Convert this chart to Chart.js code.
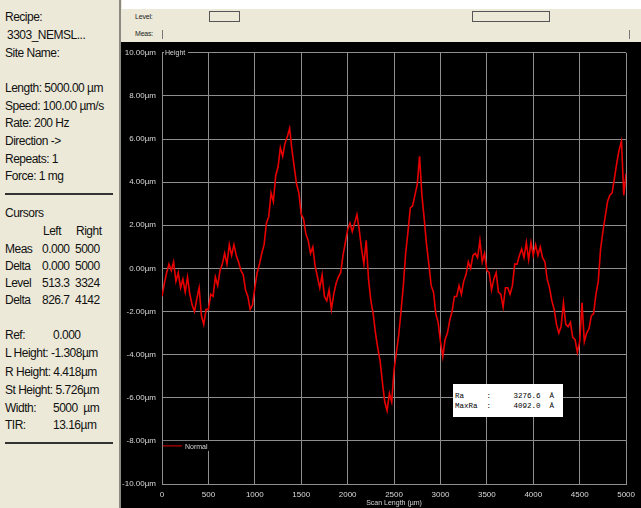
<!DOCTYPE html>
<html>
<head>
<meta charset="utf-8">
<script src="https://cdn.jsdelivr.net/npm/chart.js@4/dist/chart.umd.min.js"></script>
<style>
  html, body { margin:0; padding:0; }
  body { width:641px; height:508px; position:relative; overflow:hidden; background:#ECE9D8; font-family:"Liberation Sans", Arial, sans-serif; }
  #panel span { position:absolute; font-size:12px; letter-spacing:-0.5px; color:#111; white-space:pre; line-height:14px; transform:translateY(-7px); }
  .rule { position:absolute; left:5px; width:108px; height:2px; background:#333; }
  #topwhite { position:absolute; left:122px; top:0; width:519px; height:9px; background:#fff; }
  #divider { position:absolute; left:119px; top:0; width:2px; height:508px; background:#8a8a80; }
  .small { position:absolute; font-size:7px; color:#222; letter-spacing:-0.2px; }
  .box { position:absolute; border:1px solid #555; background:#ECE9D8; height:9px; }
  #wrap { position:absolute; left:121px; top:42px; width:520px; height:466px; background:#000; }
  #ra { position:absolute; left:453px; top:384px; width:110px; height:33px; background:#fff; font-family:"Liberation Mono", monospace; font-size:7.5px; color:#000; }
  #ra div { position:absolute; left:2px; white-space:pre; }
</style>
</head>
<body>
<div id="panel">
  <span style="left:5px;top:17px">Recipe:</span>
  <span style="left:7px;top:35px">3303_NEMSL...</span>
  <span style="left:5px;top:53px">Site Name:</span>
  <span style="left:5px;top:88px">Length: 5000.00 µm</span>
  <span style="left:5px;top:106px">Speed: 100.00 µm/s</span>
  <span style="left:5px;top:123px">Rate: 200 Hz</span>
  <span style="left:5px;top:141px">Direction -&gt;</span>
  <span style="left:5px;top:159px">Repeats: 1</span>
  <span style="left:5px;top:176px">Force: 1 mg</span>
  <div class="rule" style="top:193px"></div>
  <span style="left:5px;top:213px">Cursors</span>
  <span style="left:43px;top:231px">Left</span><span style="left:76px;top:231px">Right</span>
  <span style="left:5px;top:249px">Meas</span><span style="left:42px;top:249px">0.000</span><span style="left:75px;top:249px">5000</span>
  <span style="left:5px;top:266px">Delta</span><span style="left:42px;top:266px">0.000</span><span style="left:75px;top:266px">5000</span>
  <span style="left:5px;top:283px">Level</span><span style="left:42px;top:283px">513.3</span><span style="left:75px;top:283px">3324</span>
  <span style="left:5px;top:300px">Delta</span><span style="left:42px;top:300px">826.7</span><span style="left:75px;top:300px">4142</span>
  <span style="left:5px;top:335px">Ref:</span><span style="left:53px;top:335px">0.000</span>
  <span style="left:5px;top:353px">L Height: -1.308µm</span>
  <span style="left:5px;top:372px">R Height: 4.418µm</span>
  <span style="left:5px;top:390px">St Height: 5.726µm</span>
  <span style="left:5px;top:408px">Width:</span><span style="left:53px;top:408px">5000  µm</span>
  <span style="left:5px;top:425px">TIR:</span><span style="left:53px;top:425px">13.16µm</span>
  <div class="rule" style="top:442px"></div>
</div>
<div id="divider"></div>
<div id="topwhite"></div>
<div class="small" style="left:135px;top:13px">Level:</div>
<div class="small" style="left:135px;top:30px">Meas:</div>
<div class="box" style="left:209px;top:11px;width:29px"></div>
<div class="box" style="left:472px;top:11px;width:76px"></div>
<div style="position:absolute;left:162px;top:30px;width:1px;height:9px;background:#777"></div>
<div style="position:absolute;left:629px;top:30px;width:1px;height:9px;background:#777"></div>
<div id="wrap"><canvas id="c" width="520" height="466"></canvas></div>
<div id="ra"><div style="top:8px">Ra     :     3276.6  Å</div><div style="top:18px">MaxRa  :     4092.0  Å</div></div>
<script>
// scan positions in µm (step 25)
const scanLength = [];
for (let i = 0; i <= 200; i++) scanLength.push(i * 25);
const heights = [
 -1.3,-0.7,-0.2,0.2,-0.1,0.3,-0.6,-0.2,-0.9,-0.5,
 -1.1,-0.4,-1.2,-1.7,-2.0,-1.4,-0.9,-2.2,-2.6,-1.9,
 -1.9,-1.2,-1.3,-0.4,-0.8,-0.1,0.2,0.7,0.2,1.1,
 0.6,1.1,0.6,0.3,-0.1,-0.3,-1.0,-1.3,-1.9,-1.7,
 -0.9,-0.2,0.2,0.7,1.1,2.1,2.4,3.5,3.1,4.3,
 4.7,5.6,5.2,5.8,6.1,6.5,5.5,4.7,3.9,3.5,
 2.5,2.3,1.6,1.3,0.7,1.0,0.1,-0.4,-0.9,-0.3,
 -1.3,-1.5,-1.0,-1.9,-1.2,-0.7,-0.4,-0.2,0.6,1.2,
 1.8,2.1,1.7,2.1,2.5,1.8,0.9,0.2,1.3,-0.5,
 -1.5,-2.1,-3.0,-3.7,-4.3,-5.3,-6.2,-6.6,-5.8,-6.2,
 -4.7,-3.9,-3.1,-2.0,-0.8,0.7,1.7,2.8,2.9,3.4,
 3.9,5.2,3.4,2.3,1.1,0.2,-0.8,-1.1,-2.1,-2.5,
 -3.4,-4.1,-3.3,-3.0,-2.4,-2.0,-1.3,-1.3,-0.8,-1.2,
 -0.6,-0.3,0.3,0.0,0.6,0.7,0.5,1.3,0.3,0.7,
 -0.1,-0.2,-1.0,-0.5,-0.2,-1.1,-1.2,-1.8,-0.9,-0.9,
 -1.2,-0.8,0.2,0.2,0.6,0.9,0.5,1.2,0.4,1.2,
 0.6,1.1,0.6,1.0,0.5,0.3,-0.5,-0.9,-1.5,-1.9,
 -2.6,-3.0,-2.7,-1.6,-2.6,-2.7,-2.5,-3.2,-3.3,-3.9,
 -3.4,-1.6,-3.4,-3.0,-2.8,-2.2,-2.1,-1.2,-0.6,0.9,
 1.7,2.4,3.1,3.4,3.5,4.2,4.9,5.5,5.9,3.4,
 4.4
];
const xTicks = [0,500,1000,1500,2000,2500,3000,3500,4000,4500,5000];
const yTicks = [-10,-8,-6,-4,-2,0,2,4,6,8,10];

const points = scanLength.map((x, i) => ({ x: x, y: heights[i] }));
const gridCol = '#8e8e8e';
const labelCol = '#d8d8d8';

const overlay = {
  id: 'overlay',
  afterDraw(chart) {
    const ctx = chart.ctx, a = chart.chartArea;
    const ys = chart.scales.y;
    ctx.save();
    ctx.fillStyle = '#000';
    ctx.fillRect(a.left + 2, a.top - 4, 24, 8);
    ctx.font = '7px "Liberation Sans", Arial';
    ctx.fillStyle = labelCol;
    ctx.textBaseline = 'middle';
    ctx.fillText('Height', a.left + 3, a.top);
    const ly = ys.getPixelForValue(-8) + 5;
    ctx.fillStyle = '#000';
    ctx.fillRect(a.left + 1, ly - 5, 46, 10);
    ctx.strokeStyle = '#c00000';
    ctx.lineWidth = 1.2;
    ctx.beginPath(); ctx.moveTo(a.left + 1, ly); ctx.lineTo(a.left + 20, ly); ctx.stroke();
    ctx.fillStyle = labelCol;
    ctx.fillText('Normal', a.left + 23, ly + 1);
    ctx.restore();
  }
};

new Chart(document.getElementById('c'), {
  type: 'line',
  data: { datasets: [{ label: 'Normal', data: points, borderColor: '#e80000', borderWidth: 1.6, pointRadius: 0, tension: 0, fill: false }] },
  options: {
    responsive: false, animation: false, devicePixelRatio: 1,
    layout: { padding: { top: 6, right: 9, left: 0, bottom: 0 } },
    plugins: { legend: { display: false }, tooltip: { enabled: false } },
    scales: {
      x: {
        type: 'linear', min: 0, max: 5000,
        afterBuildTicks(s) { s.ticks = xTicks.map(v => ({ value: v })); },
        afterFit(s) { s.height = 24; },
        grid: { color: gridCol, lineWidth: 1, drawTicks: false },
        border: { color: gridCol },
        ticks: { color: labelCol, font: { size: 8, family: '"Liberation Sans", Arial' }, padding: 6, maxRotation: 0, autoSkip: false, callback: v => String(v) },
        title: { display: true, text: 'Scan Length (µm)', color: labelCol, font: { size: 7, family: '"Liberation Sans", Arial' }, padding: { top: 0, bottom: 1 } }
      },
      y: {
        min: -10, max: 10,
        afterBuildTicks(s) { s.ticks = yTicks.map(v => ({ value: v })); },
        afterFit(s) { s.width = 41; },
        grid: { color: gridCol, lineWidth: 1, drawTicks: false },
        border: { color: gridCol },
        ticks: { color: labelCol, font: { size: 8, family: '"Liberation Sans", Arial' }, padding: 6, autoSkip: false, callback: v => v.toFixed(2) + 'µm' }
      }
    }
  },
  plugins: [overlay]
});
</script>
</body>
</html>
